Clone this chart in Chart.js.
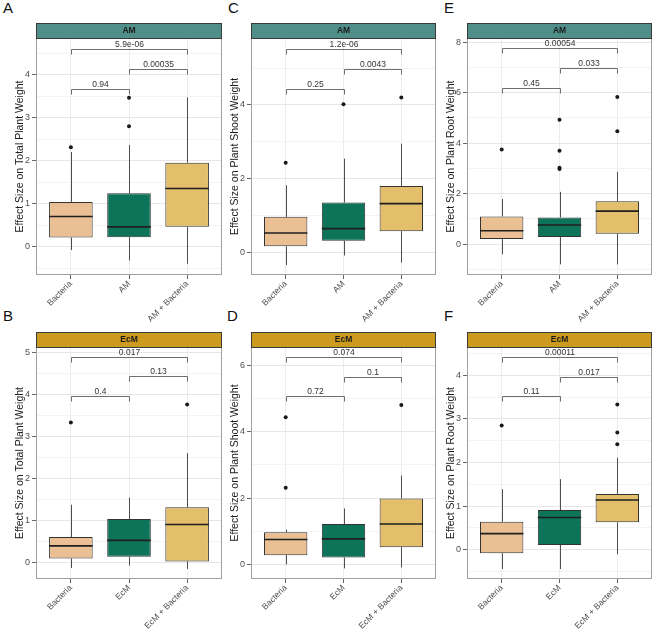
<!DOCTYPE html>
<html>
<head>
<meta charset="utf-8">
<script src="https://cdn.jsdelivr.net/npm/chart.js@4.4.0/dist/chart.umd.min.js"></script>
<style>
  body { margin: 0; background: #fff; }
  #wrap { position: relative; width: 656px; height: 632px; overflow: hidden; font-family: 'Liberation Sans', Arial, sans-serif; }
  .tag { position: absolute; font-size: 15px; line-height: 16px; color: #111; }
  canvas { position: absolute; }
</style>
</head>
<body>
<div id="wrap">
  <div class="tag" style="left:3px;top:0">A</div>
  <div class="tag" style="left:228px;top:0">C</div>
  <div class="tag" style="left:444px;top:0">E</div>
  <div class="tag" style="left:3px;top:308px">B</div>
  <div class="tag" style="left:227px;top:308px">D</div>
  <div class="tag" style="left:444px;top:308px">F</div>
</div>
<script>
var amGroups = ['Bacteria', 'AM', 'AM + Bacteria'];
var ecmGroups = ['Bacteria', 'EcM', 'EcM + Bacteria'];

// each row: [lower whisker, Q1, median, Q3, upper whisker]
var totalAmStats = [[-0.08, 0.21, 0.70, 1.04, 2.20], [-0.32, 0.22, 0.46, 1.24, 2.36], [-0.40, 0.46, 1.35, 1.95, 3.47]];
var totalAmOut = [[2.31], [2.80, 3.46], []];
var totalAmP = ['0.94', '0.00035', '5.9e-06'];
var totalAmPY = [3.67, 4.14, 4.60];

var shootAmStats = [[-0.35, 0.16, 0.52, 0.96, 1.82], [-0.09, 0.31, 0.64, 1.35, 2.54], [-0.28, 0.57, 1.32, 1.80, 2.95]];
var shootAmOut = [[2.43], [4.02], [4.20]];
var shootAmP = ['0.25', '0.0043', '1.2e-06'];
var shootAmPY = [4.44, 4.98, 5.53];

var rootAmStats = [[-0.40, 0.20, 0.53, 1.10, 1.79], [-0.80, 0.28, 0.76, 1.06, 2.07], [-0.80, 0.41, 1.31, 1.70, 2.86]];
var rootAmOut = [[3.75], [2.98, 3.02, 3.70, 4.92], [4.47, 5.82]];
var rootAmP = ['0.45', '0.033', '0.00054'];
var rootAmPY = [6.17, 6.96, 7.76];

var totalEcmStats = [[-0.14, 0.09, 0.39, 0.60, 1.37], [-0.08, 0.13, 0.52, 1.03, 1.54], [-0.16, 0.02, 0.90, 1.31, 2.60]];
var totalEcmOut = [[3.33], [], [3.76]];
var totalEcmP = ['0.4', '0.13', '0.017'];
var totalEcmPY = [3.96, 4.43, 4.90];

var shootEcmStats = [[0.00, 0.28, 0.75, 0.97, 1.05], [-0.12, 0.21, 0.77, 1.22, 1.69], [-0.09, 0.52, 1.22, 1.99, 2.68]];
var shootEcmOut = [[2.31, 4.44], [], [4.81]];
var shootEcmP = ['0.72', '0.1', '0.074'];
var shootEcmPY = [5.08, 5.66, 6.25];

var rootEcmStats = [[-0.44, -0.08, 0.37, 0.64, 1.39], [-0.44, 0.11, 0.74, 0.91, 1.62], [-0.10, 0.63, 1.14, 1.28, 2.11]];
var rootEcmOut = [[2.85], [], [2.42, 2.69, 3.33]];
var rootEcmP = ['0.11', '0.017', '0.00011'];
var rootEcmPY = [3.52, 3.97, 4.42];

var pairs = [[0, 1], [1, 2], [0, 2]];
var boxColors = ['#e9bf93', '#0d7359', '#e3be6b'];
var amStrip = '#4f8e89';
var ecmStrip = '#cc9a1e';

var colLeft = [36, 251, 467];
var colRight = [224, 438, 654];
var rowTop = [23, 332];
var rowBottom = [275, 579];
var STRIP_H = 15, AXIS_W = 36, XAXIS_H = 50, BOTTOM_PAD = 4;

Chart.defaults.font.family = "'Liberation Sans', Arial, sans-serif";

var panels = [
    { strip: 'AM', stripColor: amStrip, groups: amGroups, stats: totalAmStats, out: totalAmOut, pv: totalAmP, pvY: totalAmPY,
      title: 'Effect Size on Total Plant Weight', yMin: -0.66, yMax: 4.85, step: 1, col: 0, row: 0 },
    { strip: 'AM', stripColor: amStrip, groups: amGroups, stats: shootAmStats, out: shootAmOut, pv: shootAmP, pvY: shootAmPY,
      title: 'Effect Size on Plant Shoot Weight', yMin: -0.62, yMax: 5.82, step: 2, col: 1, row: 0 },
    { strip: 'AM', stripColor: amStrip, groups: amGroups, stats: rootAmStats, out: rootAmOut, pv: rootAmP, pvY: rootAmPY,
      title: 'Effect Size on Plant Root Weight', yMin: -1.22, yMax: 8.16, step: 2, col: 2, row: 0 },
    { strip: 'EcM', stripColor: ecmStrip, groups: ecmGroups, stats: totalEcmStats, out: totalEcmOut, pv: totalEcmP, pvY: totalEcmPY,
      title: 'Effect Size on Total Plant Weight', yMin: -0.40, yMax: 5.13, step: 1, col: 0, row: 1 },
    { strip: 'EcM', stripColor: ecmStrip, groups: ecmGroups, stats: shootEcmStats, out: shootEcmOut, pv: shootEcmP, pvY: shootEcmPY,
      title: 'Effect Size on Plant Shoot Weight', yMin: -0.44, yMax: 6.56, step: 2, col: 1, row: 1 },
    { strip: 'EcM', stripColor: ecmStrip, groups: ecmGroups, stats: rootEcmStats, out: rootEcmOut, pv: rootEcmP, pvY: rootEcmPY,
      title: 'Effect Size on Plant Root Weight', yMin: -0.67, yMax: 4.65, step: 1, col: 2, row: 1 }
];

function boxPlugin(p) {
    return {
        id: 'boxExtras',
        beforeDatasetsDraw: function(chart) {
            var ctx = chart.ctx, x = chart.scales.x, y = chart.scales.y;
            ctx.save();
            ctx.strokeStyle = '#4d4d4d';
            ctx.lineWidth = 1;
            p.stats.forEach(function(s, i) {
                var px = Math.round(x.getPixelForValue(i + 1)) + 0.5;
                ctx.beginPath();
                ctx.moveTo(px, y.getPixelForValue(s[0]));
                ctx.lineTo(px, y.getPixelForValue(s[1]));
                ctx.moveTo(px, y.getPixelForValue(s[3]));
                ctx.lineTo(px, y.getPixelForValue(s[4]));
                ctx.stroke();
            });
            ctx.restore();
        },
        afterDatasetsDraw: function(chart) {
            var ctx = chart.ctx, x = chart.scales.x, y = chart.scales.y, a = chart.chartArea;
            ctx.save();

            // medians
            var bars = chart.getDatasetMeta(0).data;
            ctx.strokeStyle = '#1f1f1f';
            ctx.lineWidth = 1.6;
            p.stats.forEach(function(s, i) {
                var b = bars[i], ym = y.getPixelForValue(s[2]);
                ctx.beginPath();
                ctx.moveTo(b.x - b.width / 2, ym);
                ctx.lineTo(b.x + b.width / 2, ym);
                ctx.stroke();
            });

            // comparison brackets
            ctx.strokeStyle = '#5e5e5e';
            ctx.lineWidth = 0.9;
            ctx.fillStyle = '#333';
            ctx.font = "8.5px 'Liberation Sans', Arial, sans-serif";
            ctx.textAlign = 'center';
            ctx.textBaseline = 'bottom';
            pairs.forEach(function(pr, k) {
                var x1 = Math.round(x.getPixelForValue(pr[0] + 1)) + 0.5;
                var x2 = Math.round(x.getPixelForValue(pr[1] + 1)) + 0.5;
                var yy = Math.round(y.getPixelForValue(p.pvY[k])) + 0.5;
                ctx.beginPath();
                ctx.moveTo(x1, yy + 5);
                ctx.lineTo(x1, yy);
                ctx.lineTo(x2, yy);
                ctx.lineTo(x2, yy + 5);
                ctx.stroke();
                ctx.fillText(p.pv[k], (x1 + x2) / 2, yy - 1);
            });

            // panel border
            ctx.strokeStyle = '#a0a0a0';
            ctx.lineWidth = 1;
            ctx.strokeRect(a.left + 0.5, a.top + 0.5, a.right - a.left - 1, a.bottom - a.top - 1);

            // strip
            ctx.fillStyle = p.stripColor;
            ctx.fillRect(a.left, a.top - STRIP_H, a.right - a.left, STRIP_H);
            ctx.strokeStyle = '#3a3a3a';
            ctx.strokeRect(a.left + 0.5, a.top - STRIP_H + 0.5, a.right - a.left - 1, STRIP_H);
            ctx.fillStyle = '#1a1a1a';
            ctx.font = "bold 8.5px 'Liberation Sans', Arial, sans-serif";
            ctx.textBaseline = 'middle';
            ctx.fillText(p.strip, (a.left + a.right) / 2, a.top - STRIP_H / 2 + 0.5);
            ctx.restore();
        }
    };
}

function drawPanel(p) {
    var wrap = document.getElementById('wrap');
    var canvas = document.createElement('canvas');
    var left = colLeft[p.col] - AXIS_W;
    var width = colRight[p.col] - colLeft[p.col] + AXIS_W + 2;
    var height = rowBottom[p.row] - rowTop[p.row] + XAXIS_H + BOTTOM_PAD;
    canvas.width = width;
    canvas.height = height;
    canvas.style.left = left + 'px';
    canvas.style.top = rowTop[p.row] + 'px';
    wrap.appendChild(canvas);

    var isMajor = function(v) { return Math.abs(v / p.step - Math.round(v / p.step)) < 1e-6; };

    var boxData = p.stats.map(function(s, i) { return { x: i + 1, y: [s[1], s[3]] }; });
    var outData = [];
    p.out.forEach(function(list, i) {
        list.forEach(function(v) { outData.push({ x: i + 1, y: v }); });
    });

    new Chart(canvas, {
        type: 'bar',
        data: {
            datasets: [{
                data: boxData,
                backgroundColor: boxColors,
                borderColor: '#333',
                borderWidth: 1,
                borderSkipped: false,
                barPercentage: 0.75,
                categoryPercentage: 1,
                order: 2
            }, {
                type: 'scatter',
                data: outData,
                pointRadius: 2,
                pointBackgroundColor: '#1a1a1a',
                pointBorderWidth: 0,
                order: 1
            }]
        },
        options: {
            responsive: false,
            animation: false,
            events: [],
            layout: { padding: { top: STRIP_H, right: 2, left: 0, bottom: BOTTOM_PAD } },
            plugins: { legend: { display: false }, tooltip: { enabled: false } },
            scales: {
                x: {
                    type: 'linear',
                    min: 0.4,
                    max: 3.6,
                    offset: false,
                    afterBuildTicks: function(s) { s.ticks = [1, 2, 3].map(function(v) { return { value: v }; }); },
                    afterFit: function(s) { s.height = XAXIS_H; s.paddingLeft = 0; s.paddingRight = 0; },
                    border: { display: false },
                    grid: { offset: false, color: '#ececec', tickColor: '#666', tickLength: 4 },
                    ticks: {
                        autoSkip: false,
                        minRotation: 45,
                        maxRotation: 45,
                        padding: 0,
                        color: '#4d4d4d',
                        font: { size: 8.5 },
                        callback: function(v) { return p.groups[v - 1]; }
                    }
                },
                y: {
                    min: p.yMin,
                    max: p.yMax,
                    afterBuildTicks: function(s) {
                        var t = [], h = p.step / 2;
                        for (var v = Math.ceil(p.yMin / h) * h; v <= p.yMax + 1e-9; v += h) {
                            t.push({ value: Math.round(v * 1000) / 1000 });
                        }
                        s.ticks = t;
                    },
                    afterFit: function(s) { s.width = AXIS_W; s.paddingTop = 0; s.paddingBottom = 0; },
                    border: { display: false },
                    grid: {
                        color: function(c) { return c.tick && isMajor(c.tick.value) ? '#e6e6e6' : '#f3f3f3'; },
                        tickColor: function(c) { return c.tick && isMajor(c.tick.value) ? '#666' : 'rgba(0,0,0,0)'; },
                        tickLength: 4
                    },
                    ticks: {
                        autoSkip: false,
                        padding: 2,
                        color: '#4d4d4d',
                        font: { size: 9 },
                        callback: function(v) { return isMajor(v) ? String(v) : ''; }
                    },
                    title: {
                        display: true,
                        text: p.title,
                        color: '#1a1a1a',
                        font: { size: 10.5 },
                        padding: { top: 14, bottom: 0 }
                    }
                }
            }
        },
        plugins: [boxPlugin(p)]
    });
}

panels.forEach(drawPanel);
</script>
</body>
</html>
